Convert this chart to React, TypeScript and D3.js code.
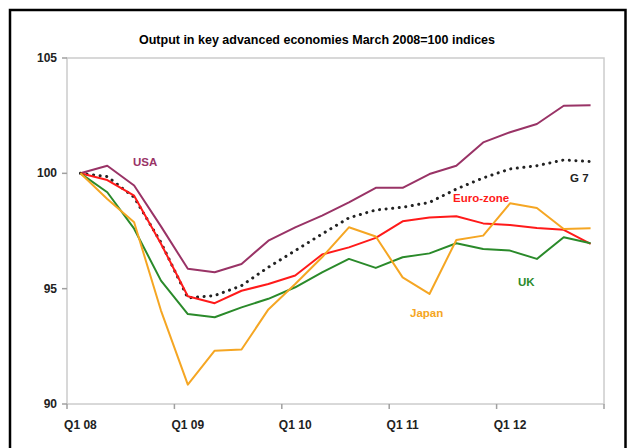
import React from 'react';
import * as d3 from 'd3';

// quarters Q1 08 .. Q4 12
const quarters = [
  'Q1 08', 'Q2 08', 'Q3 08', 'Q4 08',
  'Q1 09', 'Q2 09', 'Q3 09', 'Q4 09',
  'Q1 10', 'Q2 10', 'Q3 10', 'Q4 10',
  'Q1 11', 'Q2 11', 'Q3 11', 'Q4 11',
  'Q1 12', 'Q2 12', 'Q3 12', 'Q4 12',
];

const usa = [100, 100.33, 99.47, 97.7, 95.86, 95.71, 96.07, 97.08, 97.66, 98.17, 98.74, 99.37, 99.37, 99.97, 100.33, 101.34, 101.78, 102.14, 102.93, 102.95];
const g7 = [100, 99.86, 98.96, 97.0, 94.6, 94.7, 95.13, 95.93, 96.65, 97.37, 98.07, 98.41, 98.53, 98.74, 99.32, 99.8, 100.19, 100.33, 100.58, 100.51];
const euro = [100, 99.71, 99.03, 96.95, 94.67, 94.37, 94.91, 95.2, 95.57, 96.48, 96.79, 97.2, 97.92, 98.09, 98.14, 97.83, 97.76, 97.63, 97.55, 96.94];
const uk = [100, 99.18, 97.6, 95.35, 93.9, 93.76, 94.19, 94.56, 95.06, 95.71, 96.29, 95.9, 96.36, 96.53, 96.97, 96.72, 96.65, 96.29, 97.23, 96.97];
const japan = [100, 98.89, 97.88, 94.05, 90.84, 92.31, 92.36, 94.1, 95.2, 96.36, 97.66, 97.26, 95.49, 94.77, 97.11, 97.3, 98.7, 98.5, 97.59, 97.62];

const yTicks = [90, 95, 100, 105];

const series = [
  { name: 'USA', values: usa, color: '#993366', dash: null, label: [133, 166] },
  { name: 'G 7', values: g7, color: '#222222', dash: '0.1,6.5', label: [570, 182] },
  { name: 'Euro-zone', values: euro, color: '#ff1a1a', dash: null, label: [453, 202] },
  { name: 'UK', values: uk, color: '#2a8a2a', dash: null, label: [518, 286] },
  { name: 'Japan', values: japan, color: '#f5a623', dash: null, label: [410, 317] },
];

const App: React.FC = () => {
  const width = 630;
  const height = 448;
  const left = 67;
  const right = 604;
  const top = 58;
  const bottom = 404;

  const x = d3.scaleBand<string>().domain(quarters).range([left, right]).padding(0);
  const y = d3.scaleLinear().domain([90, 105]).range([bottom, top]);

  const line = d3.line<number>()
    .x((_, i) => (x(quarters[i]) as number) + x.bandwidth() / 2)
    .y((d) => y(d));

  // Excel style: tick marks between every 4 categories
  const xTickIdx = [0, 4, 8, 12, 16, 20];
  const font = 'Arial, "Liberation Sans", sans-serif';

  return (
    <svg width={width} height={height} style={{ position: 'absolute', left: 0, top: 0 }}>
      <rect x={0} y={0} width={width} height={height} fill="#fff" />
      <rect x={10} y={10} width={615.5} height={460} fill="none" stroke="#000" strokeWidth={2.5} />

      <text x={317} y={44} textAnchor="middle" fontFamily={font} fontSize={12.5} fontWeight="bold" fill="#000">
        Output in key advanced economies March 2008=100 indices
      </text>

      {/* plot border */}
      <rect x={left} y={top} width={right - left} height={bottom - top} fill="none" stroke="#cccccc" strokeWidth={1.5} />

      {/* y axis ticks */}
      {yTicks.map((t) => (
        <g key={t}>
          <line x1={left - 5} x2={left} y1={y(t)} y2={y(t)} stroke="#a0a0a0" strokeWidth={1.5} />
          <text x={left - 10} y={y(t) + 4} textAnchor="end" fontFamily={font} fontSize={12} fontWeight="bold" fill="#222">
            {t}
          </text>
        </g>
      ))}

      {/* x axis ticks */}
      {xTickIdx.map((i) => {
        const px = left + i * x.bandwidth();
        return (
          <line key={i} x1={px} x2={px} y1={bottom} y2={bottom + 5} stroke="#a0a0a0" strokeWidth={1.5} />
        );
      })}
      {xTickIdx.slice(0, 5).map((i) => (
        <text key={i} x={(x(quarters[i]) as number) + x.bandwidth() / 2} y={bottom + 25} textAnchor="middle"
          fontFamily={font} fontSize={12} fontWeight="bold" fill="#222">
          {quarters[i]}
        </text>
      ))}

      {/* lines */}
      {series.map((s) => (
        <path key={s.name} d={line(s.values) as string} fill="none" stroke={s.color}
          strokeWidth={s.dash ? 3 : 2} strokeDasharray={s.dash || undefined}
          strokeLinecap={s.dash ? 'round' : 'butt'} strokeLinejoin="round" />
      ))}

      {series.map((s) => (
        <text key={s.name + 'l'} x={s.label[0]} y={s.label[1]} fontFamily={font} fontSize={11.5} fontWeight="bold" fill={s.color}>
          {s.name}
        </text>
      ))}
    </svg>
  );
};

export default App;
